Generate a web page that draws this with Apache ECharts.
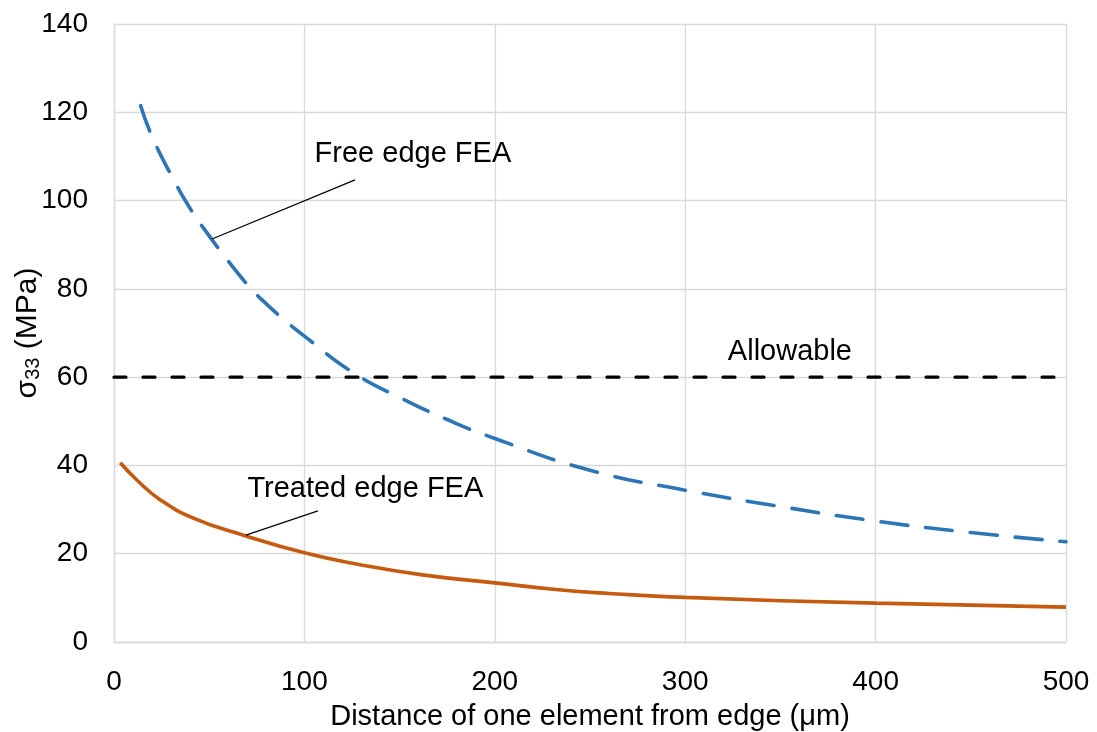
<!DOCTYPE html>
<html>
<head>
<meta charset="utf-8">
<title>sigma33 vs distance</title>
<script src="https://cdn.jsdelivr.net/npm/echarts@6/dist/echarts.min.js"></script>
<style>
    html, body { margin: 0; padding: 0; background: #fff; }
    #chart { width: 1097px; height: 732px; }
</style>
</head>
<body>
<div id="chart"></div>
<script>
// 数据
var freeX = [14, 20, 30, 40, 50, 60, 70, 80, 90, 100, 125, 150, 175, 200, 250, 300, 350, 400, 450, 500];
var freeY = [121.5, 114.5, 105.8, 98.2, 92, 86.3, 81, 76.6, 72.8, 69.3, 61.2, 55.4, 50.4, 46.1, 38.9, 34.4, 30.7, 27.4, 24.8, 22.7];
var treatedX = [3.3, 12, 24, 42, 68, 100, 128, 162, 200, 232, 260, 300, 400, 500];
var treatedY = [40.6, 36.7, 32.3, 28.0, 24.2, 20.2, 17.6, 15.2, 13.4, 11.9, 11.0, 10.1, 8.8, 7.9];
var allowX = [0, 500];
var allowY = [60, 60];
var xTicks = [0, 100, 200, 300, 400, 500];
var yTicks = [0, 20, 40, 60, 80, 100, 120, 140];

function pairs(xs, ys) {
    var out = [];
    for (var i = 0; i < xs.length; i++) {
        out.push([xs[i], ys[i]]);
    }
    return out;
}

function chart() {
    var myChart = echarts.init(document.getElementById('chart'));
    var font = "'Liberation Sans', Arial, sans-serif";
    var gridLine = { lineStyle: { color: '#d9d9d9', width: 1.3 } };
    var labelStyle = { show: true, position: 'inside', fontSize: 29, color: '#000', fontFamily: font, formatter: '{b}' };
    var leader = { color: '#000', width: 1.2, type: 'solid' };

    var option = {
        animation: false,
        textStyle: { fontFamily: font, color: '#000' },
        grid: { left: 114, right: 31, top: 24, bottom: 90, outerBoundsMode: 'none', containLabel: false },
        xAxis: {
            type: 'value',
            min: xTicks[0],
            max: xTicks[xTicks.length - 1],
            interval: 100,
            name: 'Distance of one element from edge (μm)',
            nameLocation: 'middle',
            nameGap: 60,
            nameMoveOverlap: false,
            nameTextStyle: { fontSize: 29, color: '#000', fontFamily: font },
            axisLine: { show: true, lineStyle: { color: '#d9d9d9', width: 1.3 } },
            axisTick: { show: false },
            axisLabel: { fontSize: 28, color: '#000', margin: 26, fontFamily: font },
            splitLine: gridLine
        },
        yAxis: {
            type: 'value',
            min: yTicks[0],
            max: yTicks[yTicks.length - 1],
            interval: 20,
            name: '{a|σ}{sub|33}{a| (MPa)}',
            nameLocation: 'middle',
            nameGap: 71,
            nameMoveOverlap: false,
            nameTextStyle: {
                rich: {
                    a: { fontSize: 30, color: '#000', fontFamily: font, lineHeight: 30 },
                    sub: { fontSize: 20, color: '#000', fontFamily: font, lineHeight: 30, verticalAlign: 'bottom', padding: [12, 0, 0, 0] }
                }
            },
            axisLine: { show: true, lineStyle: { color: '#d9d9d9', width: 1.3 } },
            axisTick: { show: false },
            axisLabel: { fontSize: 28, color: '#000', margin: 26, fontFamily: font },
            splitLine: gridLine
        },
        series: [{
            name: 'Allowable',
            type: 'line',
            data: pairs(allowX, allowY),
            symbol: 'none',
            lineStyle: { color: '#000', width: 3.2, type: [12, 17], cap: 'round' },
            z: 3,
            markPoint: {
                symbolSize: 0,
                label: labelStyle,
                data: [{ name: 'Allowable', coord: [355, 65.7] }]
            }
        }, {
            name: 'Free edge FEA',
            type: 'line',
            data: pairs(freeX, freeY),
            smooth: 0.5,
            symbol: 'none',
            lineStyle: { color: '#2e75b6', width: 3.6, type: [27, 18], cap: 'round' },
            z: 4,
            markLine: {
                silent: true,
                symbol: 'none',
                label: { show: false },
                lineStyle: leader,
                data: [[{ coord: [51.5, 91.3] }, { coord: [126.6, 104.7] }]]
            },
            markPoint: {
                symbolSize: 0,
                label: labelStyle,
                data: [{ name: 'Free edge FEA', coord: [157, 110.5] }]
            }
        }, {
            name: 'Treated edge FEA',
            type: 'line',
            data: pairs(treatedX, treatedY),
            smooth: 0.5,
            symbol: 'none',
            lineStyle: { color: '#c55a11', width: 3.6 },
            z: 4,
            markLine: {
                silent: true,
                symbol: 'none',
                label: { show: false },
                lineStyle: leader,
                data: [[{ coord: [69.3, 24.2] }, { coord: [107.1, 29.7] }]]
            },
            markPoint: {
                symbolSize: 0,
                label: labelStyle,
                data: [{ name: 'Treated edge FEA', coord: [132, 34.6] }]
            }
        }]
    };
    myChart.setOption(option);
}

chart();
</script>
</body>
</html>
